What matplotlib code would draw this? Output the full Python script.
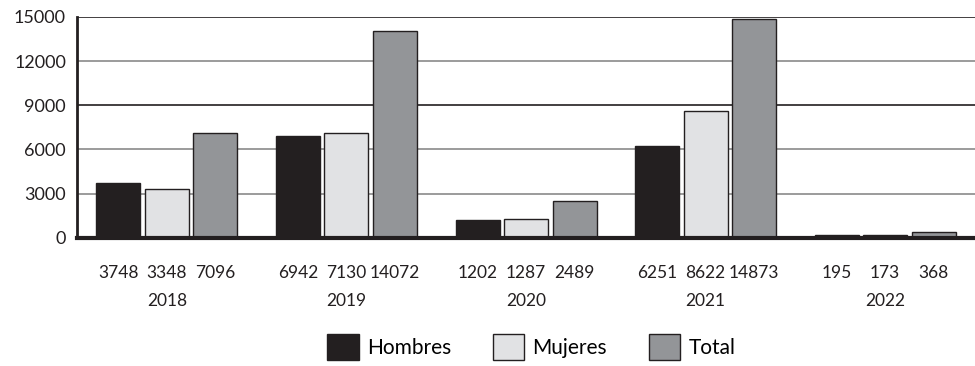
import numpy as np
import matplotlib
matplotlib.use("Agg")
from matplotlib import pyplot as plt
from matplotlib.patches import Patch

years = ["2018", "2019", "2020", "2021", "2022"]
hombres = [3748, 6942, 1202, 6251, 195]
mujeres = [3348, 7130, 1287, 8622, 173]
total = [7096, 14072, 2489, 14873, 368]

series_names = ["Hombres", "Mujeres", "Total"]
colors = ["#231f20", "#e1e2e4", "#939598"]
edge = "#231f20"

plt.rcParams['font.family'] = ['Lato', 'DejaVu Sans']

fig = plt.figure(figsize=(9.75, 3.66), dpi=100)
ax = fig.add_axes([0.079, 0.35, 0.921, 0.604])

x = np.arange(len(years))
offset = 0.27
width = 0.245

# horizontal reference lines, alternating dark and grey
grid_styles = {3000: "#8a8a8a", 6000: "#8a8a8a", 9000: "#231f20",
               12000: "#8a8a8a", 15000: "#231f20"}
for yv, c in grid_styles.items():
    ax.axhline(yv, color=c, lw=1.2, zorder=0)

for i, vals in enumerate([hombres, mujeres, total]):
    xs = x + (i - 1) * offset
    ax.bar(xs, vals, width=width, color=colors[i], edgecolor=edge,
           linewidth=1.0, zorder=2)
    for xi, v in zip(xs, vals):
        ax.text(xi, -0.16, str(v), transform=ax.get_xaxis_transform(),
                ha="center", va="center", fontsize=12.5, color="#231f20")

for xi, yr in zip(x, years):
    ax.text(xi, -0.285, yr, transform=ax.get_xaxis_transform(),
            ha="center", va="center", fontsize=12.5, color="#231f20")

ax.set_xlim(-0.5, len(years) - 0.5)
ax.set_ylim(0, 15000)
ax.set_yticks([0, 3000, 6000, 9000, 12000, 15000])
ax.tick_params(axis="y", length=0, labelsize=13, colors="#231f20", pad=8)
ax.set_xticks([])

for s in ["top", "right"]:
    ax.spines[s].set_visible(False)
ax.spines["left"].set_linewidth(2)
ax.spines["left"].set_color("#231f20")
ax.spines["bottom"].set_linewidth(3)
ax.spines["bottom"].set_color("#231f20")
ax.spines["bottom"].set_zorder(3)

handles = [Patch(facecolor=c, edgecolor=edge, linewidth=1.0) for c in colors]
fig.legend(handles, series_names, loc="center", bbox_to_anchor=(0.545, 0.052),
           ncol=3, frameon=False, fontsize=15, handlelength=1.5, handleheight=1.5,
           handletextpad=0.4, columnspacing=2.0)

fig.savefig("out.png", dpi=100)
